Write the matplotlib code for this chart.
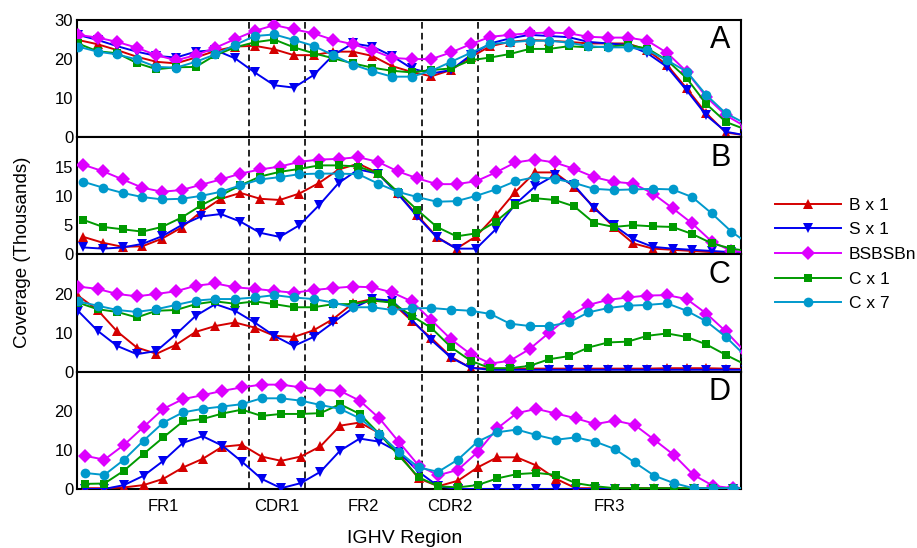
import numpy as np
import matplotlib
matplotlib.use("Agg")
import matplotlib.pyplot as plt
from matplotlib.lines import Line2D

plt.rcParams["font.family"] = ["Liberation Sans", "DejaVu Sans"]

# per-position coverage (thousands of reads), 35 positions along IGHV
pos = np.arange(35)
panel_shift = {"A": 0.0, "B": 0.28, "C": 0.0, "D": 0.35}

series = ["B x 1", "S x 1", "BSBSBn", "C x 1", "C x 7"]
colors = ["#d40000", "#0000f0", "#dd00ff", "#009a00", "#0099cc"]
markers = ["^", "v", "D", "s", "o"]
msizes = [7.5, 7.5, 7.0, 6.0, 7.0]

cov_A = {
    "B x 1": [24.9, 23.8, 22.3, 20.6, 19.3, 18.9, 20.4, 22.1, 23.2, 23.4, 22.5, 21.0, 21.0, 21.9, 21.9, 20.8, 18.2, 16.7,
              15.6, 17.2, 20.5, 23.3, 24.4, 24.9, 24.7, 24.4, 24.0, 24.0, 24.0, 22.3, 18.5, 12.5, 6.1, 1.2, 0.5],
    "S x 1": [26.2, 24.9, 23.3, 21.9, 20.8, 20.4, 21.9, 22.3, 20.2, 16.6, 13.3, 12.7, 15.9, 21.0, 24.0, 23.2, 20.8, 17.6,
              16.3, 17.2, 21.0, 24.0, 25.3, 26.2, 25.9, 25.6, 24.4, 24.0, 23.6, 21.5, 18.0, 12.0, 5.6, 1.4, 0.5],
    "BSBSBn": [26.2, 25.5, 24.4, 22.9, 21.0, 19.7, 21.0, 22.9, 25.1, 27.2, 28.7, 27.6, 26.6, 24.9, 23.8, 22.3, 20.3, 20.0,
               20.0, 21.7, 23.8, 25.7, 26.2, 26.6, 26.8, 26.6, 25.7, 25.5, 25.5, 24.7, 21.6, 16.8, 10.3, 5.6, 2.7],
    "C x 1": [24.0, 22.0, 21.5, 19.0, 17.4, 17.9, 18.0, 21.0, 23.0, 24.3, 25.0, 23.0, 21.5, 20.2, 18.9, 17.8, 17.0, 16.6,
              17.2, 17.6, 19.7, 20.4, 21.3, 22.6, 22.6, 23.3, 23.0, 23.2, 23.6, 22.7, 19.7, 15.1, 8.5, 3.9, 2.0],
    "C x 7": [23.2, 21.9, 21.2, 19.9, 18.0, 17.8, 19.3, 21.2, 23.6, 25.9, 26.3, 24.9, 23.4, 21.0, 18.6, 16.9, 15.5, 15.5,
              17.0, 19.3, 21.6, 23.8, 24.3, 24.7, 24.7, 24.2, 23.3, 23.0, 23.0, 22.3, 19.7, 16.8, 10.8, 6.1, 3.5],
}

cov_B = {
    "B x 1": [3.0, 2.0, 1.3, 1.4, 2.7, 4.6, 7.3, 9.5, 10.5, 9.5, 9.3, 10.4, 12.2, 14.5, 15.5, 13.9, 10.5, 6.7,
              3.0, 1.0, 3.1, 6.7, 10.7, 14.0, 14.0, 11.5, 8.1, 4.7, 1.9, 1.0, 0.8, 0.6, 0.4, 0.3, 0.2],
    "S x 1": [1.2, 1.0, 1.2, 1.8, 3.1, 5.0, 6.5, 6.9, 5.6, 3.7, 3.0, 5.0, 8.4, 12.2, 14.5, 13.8, 10.4, 6.5,
              2.9, 1.0, 1.0, 4.3, 8.6, 11.6, 13.5, 11.8, 7.9, 5.0, 2.6, 1.3, 1.0, 0.8, 0.6, 0.4, 0.3],
    "BSBSBn": [15.3, 14.2, 12.8, 11.4, 10.7, 11.0, 11.9, 12.8, 13.8, 14.5, 15.0, 15.8, 16.2, 16.3, 16.6, 15.8, 14.2, 13.0,
               12.0, 12.0, 12.5, 14.0, 15.7, 16.2, 15.7, 14.6, 13.2, 12.4, 12.1, 10.4, 7.9, 5.3, 2.2, 0.6, 0.3],
    "C x 1": [5.9, 4.7, 4.3, 3.9, 4.7, 6.3, 8.4, 10.1, 11.8, 13.3, 14.1, 14.6, 15.2, 15.2, 15.0, 13.8, 10.7, 7.6,
              4.7, 3.1, 3.6, 5.6, 8.4, 9.6, 9.3, 8.2, 5.4, 4.7, 5.0, 4.8, 4.7, 3.5, 1.9, 1.0, 0.5],
    "C x 7": [12.4, 11.4, 10.5, 9.8, 9.4, 9.5, 10.0, 10.7, 11.8, 12.8, 13.2, 13.7, 13.8, 13.8, 13.7, 12.1, 10.7, 9.8,
              9.0, 9.1, 10.0, 11.1, 12.5, 13.2, 12.9, 12.2, 11.2, 11.0, 11.1, 11.2, 11.1, 9.8, 7.0, 3.9, 1.5],
}

cov_C = {
    "B x 1": [19.5, 15.8, 10.3, 6.2, 4.6, 6.9, 10.2, 11.7, 12.6, 11.3, 9.2, 8.9, 10.6, 13.5, 17.5, 18.6, 17.7, 13.0,
              8.6, 3.8, 1.0, 0.8, 0.8, 0.8, 0.8, 0.8, 0.8, 0.8, 0.8, 0.8, 0.9, 0.9, 0.9, 0.8, 0.7],
    "S x 1": [15.6, 10.5, 6.6, 4.5, 5.3, 9.6, 14.3, 17.3, 15.6, 12.6, 9.2, 6.6, 8.9, 12.6, 16.3, 18.6, 18.2, 13.3,
              8.1, 3.6, 1.0, 0.5, 0.5, 0.5, 0.5, 0.5, 0.5, 0.5, 0.5, 0.5, 0.5, 0.5, 0.5, 0.5, 0.5],
    "BSBSBn": [21.8, 21.2, 19.9, 19.3, 19.9, 20.6, 22.0, 22.6, 21.6, 21.2, 20.7, 20.2, 20.9, 21.4, 21.8, 21.6, 20.3, 18.0,
               13.2, 8.3, 4.5, 2.1, 2.8, 5.8, 10.0, 14.1, 17.1, 18.4, 19.0, 19.5, 19.6, 18.6, 14.9, 10.3, 5.0],
    "C x 1": [17.7, 16.0, 15.3, 13.9, 15.6, 15.8, 17.3, 18.0, 17.4, 18.0, 17.3, 16.5, 16.5, 17.3, 17.3, 18.2, 17.7, 14.3,
              11.2, 6.3, 2.8, 0.9, 0.9, 1.5, 3.2, 4.0, 6.2, 7.5, 7.7, 9.2, 9.8, 8.9, 7.0, 4.3, 1.8],
    "C x 7": [18.0, 16.9, 15.8, 15.3, 16.0, 17.1, 18.2, 18.6, 18.6, 19.0, 19.6, 19.0, 18.6, 17.7, 16.5, 16.5, 15.8, 16.2,
              16.3, 15.9, 15.6, 14.8, 12.3, 11.7, 11.7, 12.6, 15.2, 16.3, 16.9, 17.1, 17.5, 15.6, 12.9, 8.9, 4.0],
}

cov_D = {
    "B x 1": [0.2, 0.2, 0.4, 1.0, 2.6, 5.5, 7.7, 10.8, 11.3, 8.3, 7.2, 8.3, 10.9, 16.2, 17.0, 14.3, 9.0, 2.7,
              0.7, 2.1, 5.5, 8.1, 8.1, 6.0, 2.6, 0.2, 0.2, 0.2, 0.2, 0.2, 0.2, 0.2, 0.2, 0.2, 0.2],
    "S x 1": [0.0, 0.0, 1.0, 3.4, 7.2, 11.8, 13.5, 11.1, 7.0, 2.6, 0.2, 1.5, 4.4, 9.8, 12.9, 12.1, 9.4, 4.4,
              0.7, 0.0, 0.0, 0.0, 0.0, 0.0, 0.0, 0.0, 0.0, 0.0, 0.0, 0.0, 0.0, 0.0, 0.0, 0.0, 0.0],
    "BSBSBn": [8.5, 7.5, 11.3, 15.9, 20.5, 23.0, 24.0, 25.1, 26.0, 26.7, 26.7, 26.0, 25.4, 25.1, 22.6, 18.1, 12.0, 6.0,
               3.5, 4.9, 9.4, 15.5, 19.4, 20.5, 19.3, 18.1, 16.6, 17.5, 16.4, 12.6, 8.7, 3.6, 0.8, 0.2, 0.2],
    "C x 1": [1.3, 1.4, 4.7, 9.0, 13.2, 17.3, 17.9, 19.3, 20.3, 18.7, 19.2, 19.2, 19.4, 21.7, 19.2, 14.1, 8.5, 3.0,
              0.7, 0.4, 1.0, 2.7, 3.8, 4.1, 3.6, 1.5, 0.7, 0.2, 0.2, 0.2, 0.2, 0.2, 0.2, 0.2, 0.2],
    "C x 7": [4.1, 3.6, 7.5, 12.4, 17.0, 19.6, 20.5, 21.1, 21.7, 23.2, 23.2, 22.6, 21.5, 20.5, 18.1, 14.1, 9.5, 5.5,
              4.4, 7.5, 12.1, 14.5, 15.2, 13.8, 12.6, 13.2, 12.1, 10.2, 6.8, 3.4, 1.5, 0.2, 0.2, 0.2, 0.2],
}

panels = [("A", cov_A, 30, [0, 10, 20, 30]),
          ("B", cov_B, 20, [0, 5, 10, 15]),
          ("C", cov_C, 30, [0, 10, 20]),
          ("D", cov_D, 30, [0, 10, 20])]

# region boundaries and names along the x positions
boundaries = [8.72, 11.57, 17.54, 20.36]
regions = ["FR1", "CDR1", "FR2", "CDR2", "FR3"]
x_lo, x_hi = -0.03, 33.75

fig = plt.figure(figsize=(9.17, 5.48), dpi=100)
gs = fig.add_gridspec(4, 1, hspace=0, left=0.0843, right=0.8077,
                      top=0.9635, bottom=0.1077)

for k, (tag, cov, ymax, yticks) in enumerate(panels):
    ax = fig.add_subplot(gs[k])
    x = pos + panel_shift[tag]
    for name, c, m, ms in zip(series, colors, markers, msizes):
        ax.plot(x, cov[name], color=c, marker=m, markersize=ms, linewidth=1.4,
                markeredgewidth=0, zorder=3)
    for b in boundaries:
        ax.axvline(b, color="black", linestyle=(0, (4, 2.5)), linewidth=1.2, zorder=2)
    ax.set_xlim(x_lo, x_hi)
    ax.set_ylim(0, ymax)
    ax.set_yticks(yticks)
    ax.tick_params(axis="y", length=0, pad=3, labelsize=12)
    for s in ax.spines.values():
        s.set_linewidth(1.5)
    ax.text(0.985, 0.955, tag, transform=ax.transAxes, ha="right", va="top",
            fontsize=22)
    if k < 3:
        ax.set_xticks([])
    else:
        edges = [x_lo] + boundaries + [x_hi]
        mids = [(edges[j] + edges[j + 1]) / 2 for j in range(len(regions))]
        ax.set_xticks(mids)
        ax.set_xticklabels(regions)
        ax.tick_params(axis="x", length=0, pad=7, labelsize=12)

fig.text(0.024, 1 - 252 / 548, "Coverage (Thousands)", rotation=90,
         ha="center", va="center", fontsize=13.5)
fig.text(0.4417, 1 - 543 / 548, "IGHV Region", ha="center", va="baseline",
         fontsize=14)

handles = [Line2D([], [], color=c, marker=m, markersize=ms, linewidth=1.4,
                  markeredgewidth=0)
           for c, m, ms in zip(colors, markers, msizes)]
fig.legend(handles, series, loc="center left", bbox_to_anchor=(775 / 917, 1 - 254.5 / 548),
           frameon=False, fontsize=12.5, handlelength=3.8, handletextpad=0.45,
           labelspacing=0.55, borderpad=0, borderaxespad=0)

fig.savefig("out.png", dpi=100)
